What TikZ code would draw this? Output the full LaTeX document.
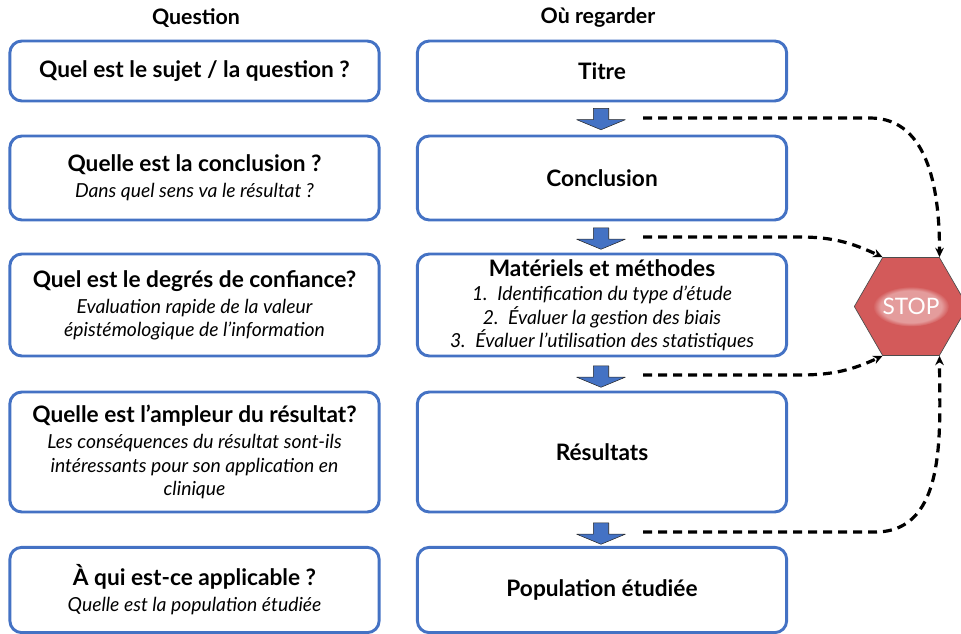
\documentclass[tikz,border=0pt]{standalone}
\usepackage{fontspec}
\setmainfont{Lato}
\usetikzlibrary{shapes.geometric,shapes.arrows,arrows.meta,calc,fadings}
\definecolor{boxblue}{RGB}{68,114,196}
\definecolor{stopred}{RGB}{211,90,90}
\newcommand{\boxttl}[1]{{\fontsize{17}{18}\selectfont\bfseries #1}}
\newcommand{\boxsub}{\fontsize{14.5}{17.5}\selectfont\itshape}

\begin{document}
\begin{tikzpicture}[line cap=butt,line join=round,x=0.75pt,y=0.75pt,
  box/.style={draw=boxblue,line width=2.2pt,rounded corners=9pt,fill=white,
    minimum width=277pt,align=center,inner sep=0pt,
    font=\fontsize{14.5}{17.5}\selectfont},
  head/.style={font=\fontsize{16}{18}\selectfont\bfseries},
  blockarrow/.style={single arrow,draw=black!85,line width=0.4pt,fill=boxblue,
    rotate=-90,minimum height=16pt,inner xsep=0pt,inner ysep=5.6pt,
    single arrow head extend=12.4pt,single arrow tip angle=135},
  stoplink/.style={draw,line width=2.4pt,dash pattern=on 6.75pt off 4.5pt,
    -{Stealth[length=7pt,width=6.5pt]}}]
\useasboundingbox (0,0) rectangle (961,-634);
% column headers
\node[head] (hq) at (196,-18) {Question};
\node[head] (hr) at (598,-18) {Où regarder};
% questions
\node[box,minimum height=45pt] (q1) at (194.5,-71)
  {\boxttl{Quel est le sujet / la question ?}};
\node[box,minimum height=63pt] (q2) at (194.5,-178)
  {\boxttl{Quelle est la conclusion ?}\\[2pt]{\boxsub Dans quel sens va le résultat ?}};
\node[box,minimum height=76.5pt] (q3) at (194.5,-305)
  {\boxttl{Quel est le degrés de confiance?}\\[2pt]{\boxsub Evaluation rapide de la valeur}\\{\boxsub épistémologique de l’information}};
\node[box,minimum height=90pt] (q4) at (194.5,-452)
  {\boxttl{Quelle est l’ampleur du résultat?}\\[2pt]{\boxsub Les conséquences du résultat sont-ils}\\{\boxsub intéressants pour son application en}\\{\boxsub clinique}};
\node[box,minimum height=64pt] (q5) at (194.5,-590)
  {\boxttl{À qui est-ce applicable ?}\\[2pt]{\boxsub Quelle est la population étudiée}};
% where to look
\node[box,minimum height=45pt] (r1) at (602,-71) {\boxttl{Titre}};
\node[box,minimum height=63pt] (r2) at (602,-178) {\boxttl{Conclusion}};
\node[box,minimum height=76.5pt] (r3) at (602,-305)
  {\boxttl{Matériels et méthodes}\\[1pt]{\boxsub 1.\enspace Identification du type d’étude}\\{\boxsub 2.\enspace Évaluer la gestion des biais}\\{\boxsub 3.\enspace Évaluer l’utilisation des statistiques}};
\node[box,minimum height=90pt] (r4) at (602,-452) {\boxttl{Résultats}};
\node[box,minimum height=64pt] (r5) at (602,-590) {\boxttl{Population étudiée}};
% block arrows
\node[blockarrow] (a1) at (601,-117.5) {};
\node[blockarrow] (a2) at (601,-237) {};
\node[blockarrow] (a3) at (601,-375) {};
\node[blockarrow] (a4) at (601,-532) {};
% stop sign
\node[regular polygon,regular polygon sides=6,minimum size=85pt,inner sep=0pt,
  fill=stopred,draw=black!70,line width=0.5pt] (stop) at (911,-306.5) {};
\fill[white,opacity=0.4,path fading=circle with fuzzy edge 20 percent]
  (stop) ellipse (38 and 20);
\node[text=white,font=\fontsize{17}{18}\selectfont] (stoptxt) at (stop) {STOP};
% dashed links
\coordinate (d1) at (643,-118);
\coordinate (d2) at (643,-237);
\coordinate (d3) at (643,-375);
\coordinate (d4) at (643,-532);
\draw[stoplink] (d1) -- (870,-118) to[out=0,in=90] (stop.60);
\draw[stoplink] (d2) -- (800,-237) to[out=0,in=155] (stop.120);
\draw[stoplink] (d3) -- (800,-375) to[out=0,in=-155] (stop.240);
\draw[stoplink] (d4) -- (875,-532) to[out=0,in=-90] (stop.300);
\end{tikzpicture}
\end{document}
